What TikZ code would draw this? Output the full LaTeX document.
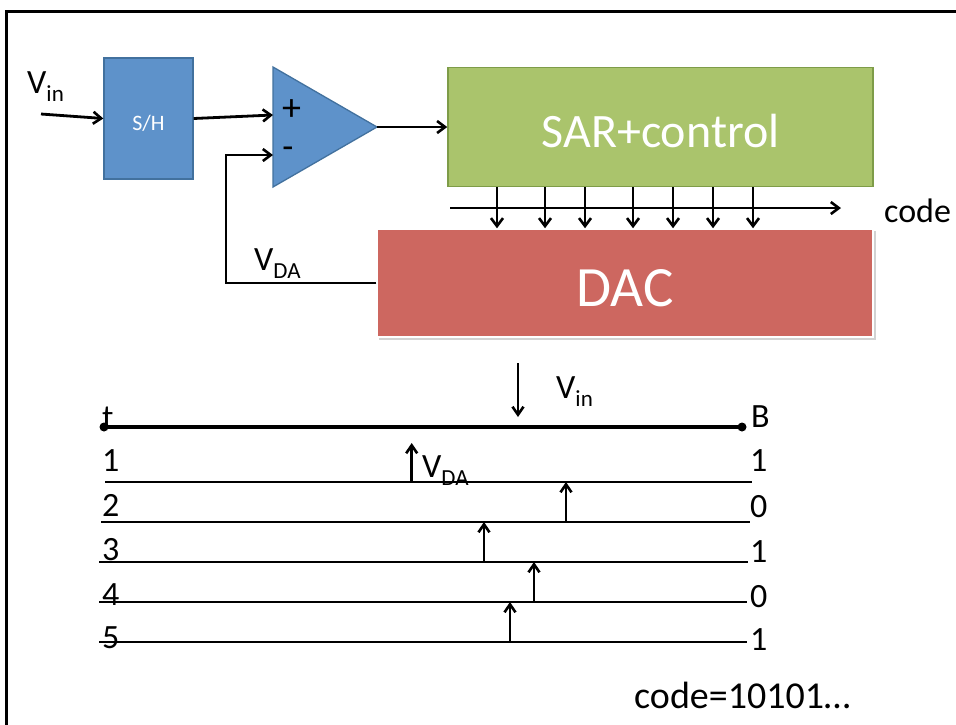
\documentclass[tikz,border=0pt]{standalone}
\usepackage{fontspec}
\setmainfont{Carlito}
\usetikzlibrary{arrows.meta,calc}
\definecolor{shblue}{RGB}{94,146,202}
\definecolor{shedge}{RGB}{66,113,158}
\definecolor{sargreen}{RGB}{170,196,108}
\definecolor{saredge}{RGB}{126,156,72}
\definecolor{dacred}{RGB}{205,103,96}
\definecolor{shadowgray}{RGB}{210,210,210}
\newcommand{\fsz}[1]{\fontsize{#1}{#1}\selectfont}
\newcommand{\Vsub}[1]{V\raisebox{-0.26em}{\fsz{23}#1}}
\begin{document}
\begin{tikzpicture}[x=1pt,y=-1pt,
  arr/.style={line width=2.8pt,-{Straight Barb[length=8pt,width=12pt,line width=2.6pt]}},
  tarr/.style={line width=2.8pt,-{Straight Barb[length=8pt,width=11pt,line width=2.6pt]}},
  lbl/.style={inner sep=0pt,anchor=base west,font=\fsz{34}},
  thin/.style={line width=1.5pt}]
\useasboundingbox (0,0) rectangle (956,724);
% frame
\draw[line width=3pt] (6,730) -- (6,11) -- (960,11);
% blocks
\node[draw=shedge,fill=shblue,line width=1.3pt,minimum width=89pt,minimum height=121pt,inner sep=0pt,
  text=white,font=\fsz{22},text height=23pt,text depth=0pt] (sh) at (148.5,118.5) {S/H};
\draw[fill=shblue,draw=shedge,line width=1.3pt] (273,67) -- (273,187) -- (377,127) -- cycle;
\coordinate (cmpP) at (273,115);
\coordinate (cmpM) at (273,155);
\coordinate (cmpO) at (377,127);
\node[inner sep=0pt,font=\fsz{38}] (plus) at (291.5,110) {+};
\node[inner sep=0pt,font=\fsz{36}] (minus) at (288,153) {-};
\node[draw=saredge,fill=sargreen,line width=1.5pt,minimum width=425pt,minimum height=119pt,inner sep=0pt,
  text=white,font=\fsz{48},text height=41pt,text depth=0pt] (sar) at (660.5,127) {SAR+control};
\fill[shadowgray] (379,231) rectangle (876,340);
\node[draw=white,fill=dacred,line width=1.5pt,minimum width=496pt,minimum height=108pt,inner sep=0pt,
  text=white,font=\fsz{57},text height=47pt,text depth=0pt] (dac) at (625,283) {DAC};
% labels top
\node[lbl] (vin) at (27,93) {\Vsub{in}};
\node[lbl] (vda) at (254,270) {\Vsub{DA}};
\node[lbl] (code) at (884,222) {code};
% connectors
\coordinate (vinS) at (41,114);
\draw[arr] (vinS) -- (sh.west);
\draw[arr] (sh.east) -- (cmpP);
\draw[arr] (cmpO) -- (sar.west |- cmpO);
\coordinate (fbc) at (226,283);
\draw[arr] (dac.west) -- (fbc) |- (cmpM);
\foreach \i/\x in {1/497,2/545,3/585,4/633,5/673,6/713,7/753}{
  \coordinate (b\i) at (\x,0);
  \draw[arr] (sar.south -| b\i) -- (dac.north -| b\i);
}
\coordinate (cs) at (450,208);
\coordinate (ce) at (841,208);
\draw[arr] (cs) -- (ce);
% timeline
\coordinate (tL) at (104,427);
\coordinate (tR) at (742,427);
\draw[line width=3.5pt] (tL) -- (tR);
\fill (tL) circle (4.5pt);
\fill (tR) circle (4.5pt);
\node[lbl] (tlab) at (102,428) {t};
\node[lbl] (Blab) at (751,427) {B};
\coordinate (l1L) at (105,482); \coordinate (l1R) at (752,482);
\coordinate (l2L) at (101,522); \coordinate (l2R) at (750,522);
\coordinate (l3L) at (99,562);  \coordinate (l3R) at (748,562);
\coordinate (l4L) at (99,602);  \coordinate (l4R) at (747,602);
\coordinate (l5L) at (99,642);  \coordinate (l5R) at (747,642);
\draw[thin] (l1L) -- (l1R);
\draw[thin] (l2L) -- (l2R);
\draw[thin] (l3L) -- (l3R);
\draw[thin] (l4L) -- (l4R);
\draw[thin] (l5L) -- (l5R);
\node[lbl] (n1) at (102,471) {1};
\node[lbl] (n2) at (102,516) {2};
\node[lbl] (n3) at (102,560) {3};
\node[lbl] (n4) at (102,605) {4};
\node[lbl] (n5) at (102,648) {5};
\node[lbl] (r1) at (750,471) {1};
\node[lbl] (r2) at (750,517) {0};
\node[lbl] (r3) at (750,562) {1};
\node[lbl] (r4) at (750,607) {0};
\node[lbl] (r5) at (750,650) {1};
% Vin down arrow
\coordinate (vdS) at (518,363);
\coordinate (vdE) at (518,417);
\draw[tarr] (vdS) -- (vdE);
\node[lbl] (vin2) at (556,398) {\Vsub{in}};
% VDA arrows
\coordinate (a1t) at (411.7,443);
\draw[tarr] (l1L -| a1t) -- (a1t);
\node[lbl] (vda2) at (422,477) {\Vsub{DA}};
\coordinate (a2) at (566,0);
\draw[tarr] (l2L -| a2) -- (l1L -| a2);
\coordinate (a3) at (484,0);
\draw[tarr] (l3L -| a3) -- (l2L -| a3);
\coordinate (a4) at (534,0);
\draw[tarr] (l4L -| a4) -- (l3L -| a4);
\coordinate (a5) at (510,0);
\draw[tarr] (l5L -| a5) -- (l4L -| a5);
% result
\node[lbl,font=\fsz{38}] (res) at (634,708) {code=10101…};
\end{tikzpicture}
\end{document}
